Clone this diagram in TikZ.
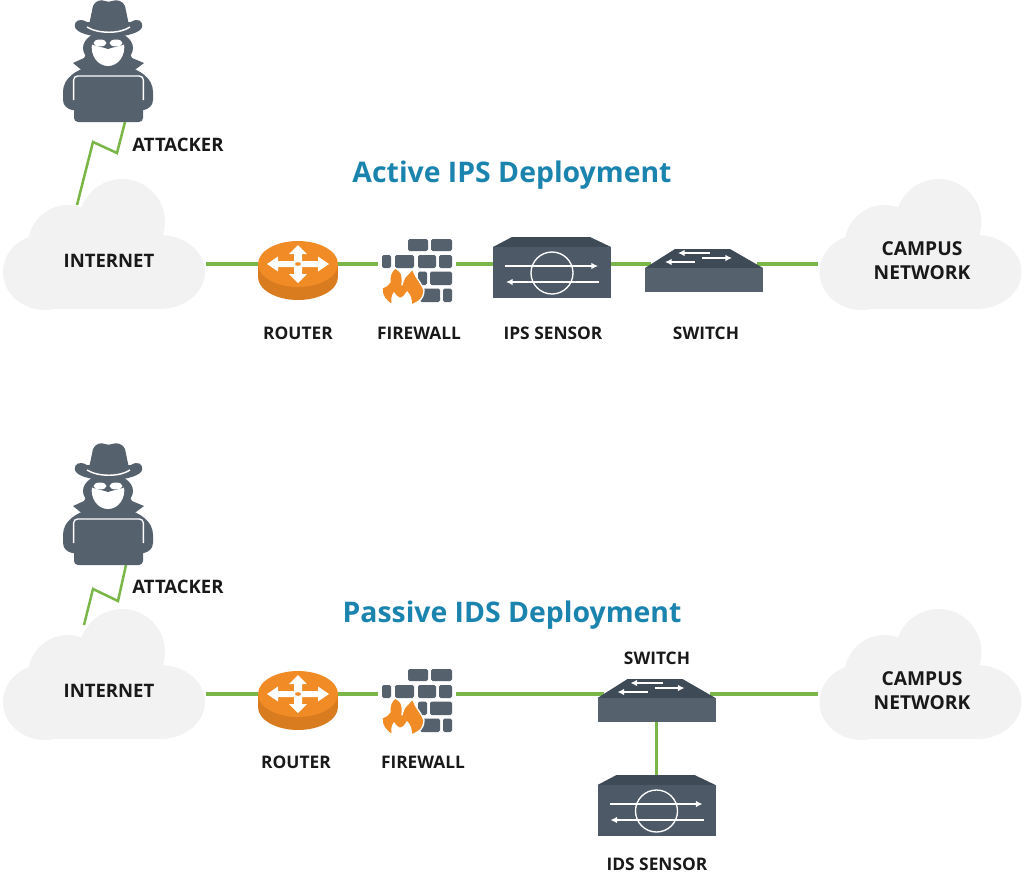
\documentclass[tikz,border=0pt]{standalone}
\usepackage{fontspec}
\setmainfont{Open Sans}
\usetikzlibrary{arrows.meta}
\definecolor{slate}{HTML}{56616E}
\definecolor{slatedark}{HTML}{3F4A57}
\definecolor{slatemid}{HTML}{4D5967}
\definecolor{wire}{HTML}{7AB648}
\definecolor{cloudgray}{HTML}{F2F2F2}
\definecolor{orangetop}{HTML}{F08B25}
\definecolor{orangeside}{HTML}{D97B1F}
\definecolor{titleblue}{HTML}{1B84AE}
\tikzset{
  x=.75pt,y=-.75pt,
  wirelink/.style={draw=wire,line width=2.4pt},
  boltlink/.style={draw=wire,line width=1.9pt,line join=miter},
  anchorbox/.style={inner sep=0pt,outer sep=0pt,minimum width=#1*.75pt},
  lbl/.style={inner sep=0pt,font=\fontsize{13}{13}\selectfont\bfseries,text=black!90},
  atklbl/.style={inner sep=0pt,font=\fontsize{13.9}{14}\selectfont\bfseries,text=black!90},
  cloudlbl/.style={inner sep=0pt,font=\fontsize{13.9}{18}\selectfont\bfseries,text=black!90,align=center},
  camplbl/.style={inner sep=0pt,font=\fontsize{14.4}{18}\selectfont\bfseries,text=black!90,align=center},
  ttl/.style={inner sep=0pt,font=\fontsize{21.3}{24}\selectfont\bfseries,text=titleblue},
  whitearrow/.style={draw=white,line width=1.1pt,-{Latex[length=5pt,width=5pt]}},
  brick/.style={fill=slate,rounded corners=1.2pt},
  pics/cloudshape/.style={code={
    \fill[cloudgray] (18,-42) ellipse [x radius=43,y radius=43];
    \fill[cloudgray] (-36,-19) ellipse [x radius=40,y radius=40];
    \fill[cloudgray] (-59,8) ellipse [x radius=42,y radius=38];
    \fill[cloudgray] (56,8) ellipse [x radius=45,y radius=37];
    \fill[cloudgray] (-59,-25) rectangle (56,45);
  }},
  pics/routershape/.style={code={
    \fill[orangeside] (-40,0) rectangle (40,13);
    \fill[orangeside] (0,13) ellipse [x radius=40,y radius=23];
    \fill[orangetop] (0,0) ellipse [x radius=40,y radius=23];
    \fill[white] (31,0)--(20,-7.5)--(20,-3)--(4,-3)--(4,-10)--(9,-10)--(0,-19)--(-9,-10)--(-4,-10)--(-4,-3)
      --(-20,-3)--(-20,-7.5)--(-31,0)--(-20,7.5)--(-20,3)--(-4,3)--(-4,10)--(-9,10)--(0,19)--(9,10)--(4,10)--(4,3)--(20,3)--(20,7.5)--cycle;
    \fill[orangetop] (0,0) ellipse [x radius=3,y radius=1.8];
  }},
  pics/firewallshape/.style={code={
    \fill[brick] (-9,-25) rectangle (11,-13);
    \fill[brick] (14,-25) rectangle (35,-13);
    \fill[brick] (-35,-9) rectangle (-26,4);
    \fill[brick] (-22,-9) rectangle (-3,4);
    \fill[brick] (1,-9) rectangle (19,4);
    \fill[brick] (22,-9) rectangle (35,4);
    \fill[brick] (1,7.5) rectangle (10,21);
    \fill[brick] (13,7.5) rectangle (35,21);
    \fill[brick] (3,24.5) rectangle (23,38);
    \fill[brick] (26,24.5) rectangle (35,38);
    \filldraw[fill=orangetop,draw=white,line width=1pt,line join=round]
      (-24,41) .. controls (-31,38) and (-36,31) .. (-35,24)
      .. controls (-32,23) and (-29,21) .. (-27,18)
      .. controls (-28,13) and (-26,7) .. (-22,4)
      .. controls (-18,6) and (-15,9) .. (-15,12)
      .. controls (-14,15) and (-15,18) .. (-15,21)
      .. controls (-14,16) and (-12,12) .. (-9,10)
      .. controls (-8,8) and (-6,7) .. (-4,5)
      .. controls (-3,10) and (0,14) .. (2,17)
      .. controls (4,20) and (6,23) .. (7,26)
      .. controls (7,31) and (5,35) .. (2,37)
      .. controls (-1,39) and (-3,40) .. (-6,41)
      .. controls (-5,36) and (-7,31) .. (-10,28)
      .. controls (-12,32) and (-15,35) .. (-18,34)
      .. controls (-20,33) and (-22,31) .. (-23,29)
      .. controls (-25,32) and (-26,37) .. (-24,41) -- cycle;
  }},
  pics/sensorshape/.style={code={
    \fill[slatedark] (-59,-17)--(-40,-27)--(38,-27)--(59,-17)--cycle;
    \fill[slatemid] (-59,-17) rectangle (59,34);
    \draw[white,line width=1pt] (0,9) circle [radius=21];
    \draw[whitearrow] (-47,2)--(46,2);
    \draw[whitearrow] (47,18)--(-46,18);
  }},
  pics/switchshape/.style={code={
    \fill[slatedark] (-59,4)--(-29,-15)--(26,-15)--(59,4)--cycle;
    \fill[slate] (-59,4) rectangle (59,28);
    \draw[whitearrow] (6,-11)--(-26,-11);
    \draw[whitearrow] (-2,-6)--(28,-6);
    \draw[whitearrow] (-9,-2)--(-39,-2);
  }},
  pics/attackershape/.style={code={
    \fill[slate] (-35,63)--(-24,58)--(-20,50)--(20,50)--(24,58)--(36,63)--(24,72)--(-24,72)--cycle;
    \fill[slate] (-45,92) .. controls (-45,78) and (-32,70) .. (-18,66) -- (18,66)
      .. controls (32,70) and (45,78) .. (45,92) -- (45,100)
      .. controls (45,106) and (40,109) .. (36,110) -- (-36,110)
      .. controls (-40,109) and (-45,106) .. (-45,100) -- cycle;
    \fill[slate] (0,48) ellipse [x radius=25,y radius=17];
    \fill[white] (-16,43) -- (16,43) .. controls (18,56) and (10,66) .. (0,66) .. controls (-10,66) and (-18,56) .. (-16,43) -- cycle;
    \fill[slate] (-18,36) -- (18,36) -- (17,44) .. controls (10,47) and (5,47) .. (0,49) .. controls (-5,47) and (-10,47) .. (-17,44) -- cycle;
    \fill[white] (-8,43) ellipse [x radius=6.5,y radius=3.5];
    \fill[white] (8,43) ellipse [x radius=6.5,y radius=3.5];
    \fill[slate] (-20,30) -- (-15,6) .. controls (-13,1) and (-7,-1) .. (-3,1) .. controls (-1,2) and (2,2) .. (4,1)
      .. controls (9,-1) and (15,1) .. (17,6) -- (22,30) -- cycle;
    \fill[slate] (-33,27) .. controls (-34,20) and (-28,18) .. (-21,22) -- (23,22)
      .. controls (29,18) and (35,20) .. (34,27) .. controls (33,32) and (20,37) .. (0,37)
      .. controls (-20,37) and (-32,32) .. (-33,27) -- cycle;
    \draw[white,line width=1.1pt] (-21,27) .. controls (-10,34) and (12,34) .. (22,27);
    \fill[slate,rounded corners=3pt] (-34,76) rectangle (35,122);
    \draw[white,line width=1pt,rounded corners=3pt] (-34.4,100) -- (-34.4,76) -- (35.4,76) -- (35.4,100);
  }},
}
\begin{document}
\begin{tikzpicture}
\useasboundingbox (0,0) rectangle (1024,875);
\node[anchorbox=204] (inetA) at (104,264) {};
\node[anchorbox=80]  (routerA) at (298,264) {};
\node[anchorbox=78]  (fireA) at (417,264) {};
\node[anchorbox=118] (ipsA) at (552,264) {};
\node[anchorbox=106] (switchA) at (704,264) {};
\node[anchorbox=205] (campusA) at (920.5,264) {};
\node[anchorbox=204] (inetB) at (104,694) {};
\node[anchorbox=80]  (routerB) at (298,694) {};
\node[anchorbox=78]  (fireB) at (417,694) {};
\node[anchorbox=106,minimum height=42pt] (switchB) at (656.5,694) {};
\node[anchorbox=205] (campusB) at (920.5,694) {};
\node[anchorbox=118,minimum height=46.5pt] (idsB) at (656.5,806) {};
\coordinate (boltA) at (125,122);
\coordinate (boltA2) at (117,153);
\coordinate (boltA3) at (93,142);
\coordinate (boltA4) at (77,205);
\coordinate (boltB) at (126,565);
\coordinate (boltB2) at (118,601);
\coordinate (boltB3) at (93,589);
\coordinate (boltB4) at (84,625);
\pic at (inetA) {cloudshape};
\pic at (campusA) {cloudshape};
\pic at (inetB) {cloudshape};
\pic at (campusB) {cloudshape};
\draw[wirelink] (inetA.east) -- (routerA.west);
\draw[wirelink] (routerA.east) -- (fireA.west);
\draw[wirelink] (fireA.east) -- (ipsA.west);
\draw[wirelink] (ipsA.east) -- (switchA.west);
\draw[wirelink] (switchA.east) -- (campusA.west);
\draw[wirelink] (inetB.east) -- (routerB.west);
\draw[wirelink] (routerB.east) -- (fireB.west);
\draw[wirelink] (fireB.east) -- (switchB.west);
\draw[wirelink] (switchB.east) -- (campusB.west);
\draw[wirelink] (switchB.south) -- (idsB.north);
\draw[boltlink] (boltA) -- (boltA2) -- (boltA3) -- (boltA4);
\draw[boltlink] (boltB) -- (boltB2) -- (boltB3) -- (boltB4);
\pic at (routerA) {routershape};
\pic at (fireA) {firewallshape};
\pic at (ipsA) {sensorshape};
\pic at (switchA) {switchshape};
\pic at (routerB) {routershape};
\pic at (fireB) {firewallshape};
\pic at (switchB) {switchshape};
\pic at (656.5,802) {sensorshape};
\pic at (108,0) {attackershape};
\pic at (108,443) {attackershape};
\node[ttl] (titleA) at (512,175) {Active IPS Deployment};
\node[ttl] (titleB) at (512,615) {Passive IDS Deployment};
\node[atklbl] (lAtkA) at (178,145) {ATTACKER};
\node[atklbl] (lAtkB) at (178,587) {ATTACKER};
\node[cloudlbl] (lInetA) at (109,261) {INTERNET};
\node[cloudlbl] (lInetB) at (109,691) {INTERNET};
\node[camplbl] (lCampA) at (922,261) {CAMPUS\\NETWORK};
\node[camplbl] (lCampB) at (922,691) {CAMPUS\\NETWORK};
\node[lbl] (lRouterA) at (298,333) {ROUTER};
\node[lbl] (lFireA) at (419,333) {FIREWALL};
\node[lbl] (lIps) at (553,333) {IPS SENSOR};
\node[lbl] (lSwitchA) at (706,333) {SWITCH};
\node[lbl] (lRouterB) at (296,762) {ROUTER};
\node[lbl] (lFireB) at (423,762) {FIREWALL};
\node[lbl] (lSwitchB) at (657,658) {SWITCH};
\node[lbl] (lIds) at (657,864) {IDS SENSOR};
\end{tikzpicture}
\end{document}
